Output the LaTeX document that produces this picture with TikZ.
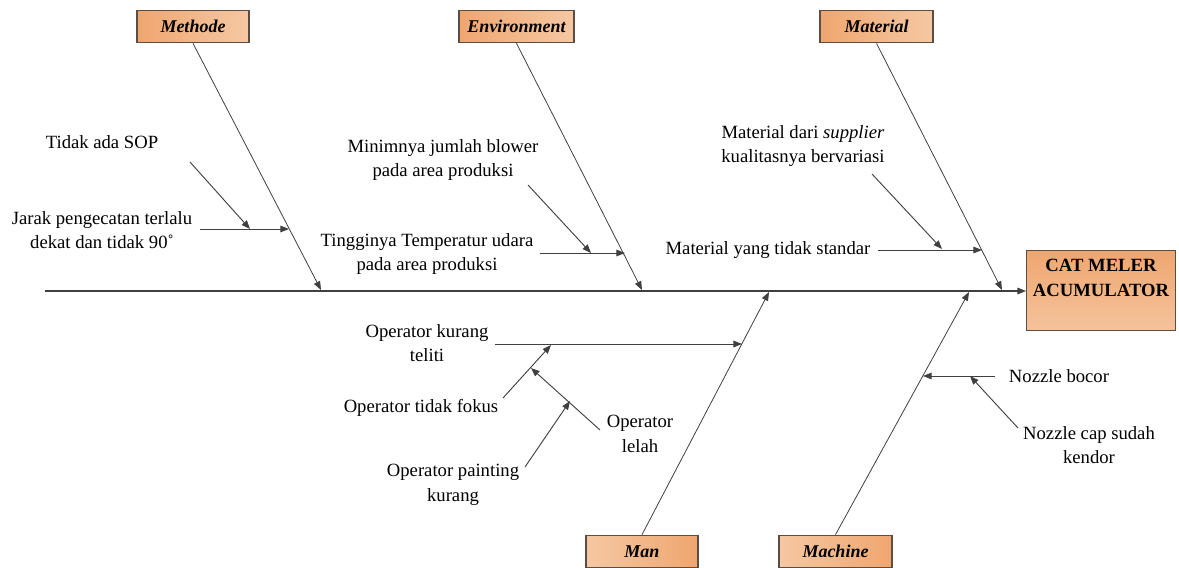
\documentclass[tikz,border=0pt]{standalone}
\usepackage{fontspec}
\setmainfont{Liberation Serif}
\usetikzlibrary{arrows.meta}
\definecolor{linegray}{HTML}{404040}
\definecolor{boxedge}{HTML}{5A4D45}
\definecolor{orgdark}{HTML}{EFA670}
\definecolor{orglight}{HTML}{F5C8A3}
\tikzset{
  catbox/.style={draw=boxedge, line width=0.8pt, minimum height=24.5pt,
    inner sep=0pt, font=\fontsize{13.5}{16}\selectfont\bfseries\itshape},
  topcat/.style={catbox, left color=orgdark, right color=orglight},
  botcat/.style={catbox, left color=orglight, right color=orgdark},
  headbox/.style={draw=boxedge, line width=0.8pt, top color=orgdark, bottom color=orglight!85!orgdark,
    minimum width=111.75pt, minimum height=60pt, inner sep=0pt},
  headtxt/.style={align=center, inner sep=0pt, font=\fontsize{14}{18.5}\selectfont\bfseries},
  cause/.style={align=center, inner sep=0pt, font=\fontsize{14}{18.5}\selectfont},
  tip/.style={-{Triangle[length=6.5pt,width=5pt]}},
  spine/.style={draw=linegray, line width=0.8pt, tip},
  bone/.style={draw=linegray, line width=0.6pt, tip},
  sub/.style={draw=linegray, line width=0.7pt, tip},
}
\begin{document}
\begin{tikzpicture}[x=0.75pt, y=-0.75pt]
\useasboundingbox (0,0) rectangle (1179,568);

% effect box
\node[headbox, anchor=north west] (head) at (1026,250) {};
\node[headtxt, anchor=north] (headlbl) at ([yshift=-7pt]head.north) {CAT MELER\\ACUMULATOR};

% category boxes
\node[topcat, minimum width=84pt] (methode) at (193,26.5) {Methode};
\node[topcat, minimum width=86.25pt] (environment) at (516.5,26.5) {Environment};
\node[topcat, minimum width=84.75pt] (material) at (876.5,26.5) {Material};
\node[botcat, minimum width=84pt] (man) at (642,551.5) {Man};
\node[botcat, minimum width=84.75pt] (machine) at (835.5,551.5) {Machine};

% spine
\coordinate (tail) at (45,291);
\draw[spine] (tail) -- (head.west |- tail);

% main bones
\coordinate (jm) at (321,290);
\coordinate (je) at (642,290);
\coordinate (jt) at (1002,290);
\coordinate (jn) at (769,292);
\coordinate (jc) at (969,292);
\draw[bone] (methode.south) -- (jm);
\draw[bone] (environment.south) -- (je);
\draw[bone] (material.south) -- (jt);
\draw[bone] (man.north) -- (jn);
\draw[bone] (machine.north) -- (jc);

% Methode causes
\node[cause] (sop) at (102,142) {Tidak ada SOP};
\node[cause] (jarak) at (102,230) {Jarak pengecatan terlalu\\dekat dan tidak 90˚};
\coordinate (sopA) at (190,162);
\coordinate (sopB) at (250,229);
\coordinate (jarA) at (200,229);
\coordinate (jarB) at (289,229);
\draw[sub] (sopA) -- (sopB);
\draw[sub] (jarA) -- (jarB);

% Environment causes
\node[cause] (blower) at (443,160) {Minimnya jumlah blower\\pada area produksi};
\node[cause] (temp) at (427,254) {Tingginya Temperatur udara\\pada area produksi};
\coordinate (blwA) at (528,185);
\coordinate (blwB) at (591,253);
\coordinate (tmpA) at (540,253);
\coordinate (tmpB) at (625,253);
\draw[sub] (blwA) -- (blwB);
\draw[sub] (tmpA) -- (tmpB);

% Material causes
\node[cause] (supplier) at (803,146) {Material dari \textit{supplier}\\kualitasnya bervariasi};
\node[cause] (standar) at (768,250) {Material yang tidak standar};
\coordinate (supA) at (872,174);
\coordinate (supB) at (942,249);
\coordinate (stdA) at (878,250);
\coordinate (stdB) at (982,250);
\draw[sub] (supA) -- (supB);
\draw[sub] (stdA) -- (stdB);

% Man causes
\node[cause] (teliti) at (427,343) {Operator kurang\\teliti};
\node[cause] (fokus) at (421,408) {Operator tidak fokus};
\node[cause] (lelah) at (640,434) {Operator\\lelah};
\node[cause] (painting) at (453,485) {Operator painting\\kurang};
\coordinate (telA) at (495,344);
\coordinate (telB) at (742,344);
\coordinate (fokA) at (503,398);
\coordinate (fokB) at (551,345);
\coordinate (lelA) at (600,430);
\coordinate (lelB) at (531,368);
\coordinate (paiA) at (525,467);
\coordinate (paiB) at (570,401);
\draw[sub] (telA) -- (telB);
\draw[sub] (fokA) -- (fokB);
\draw[sub] (lelA) -- (lelB);
\draw[sub] (paiA) -- (paiB);

% Machine causes
\node[cause] (bocor) at (1059,376) {Nozzle bocor};
\node[cause] (kendor) at (1089,445) {Nozzle cap sudah\\kendor};
\coordinate (bocA) at (995,376);
\coordinate (bocB) at (923,376);
\coordinate (kenA) at (1018,428);
\coordinate (kenB) at (970,376);
\draw[sub] (bocA) -- (bocB);
\draw[sub] (kenA) -- (kenB);
\end{tikzpicture}
\end{document}
